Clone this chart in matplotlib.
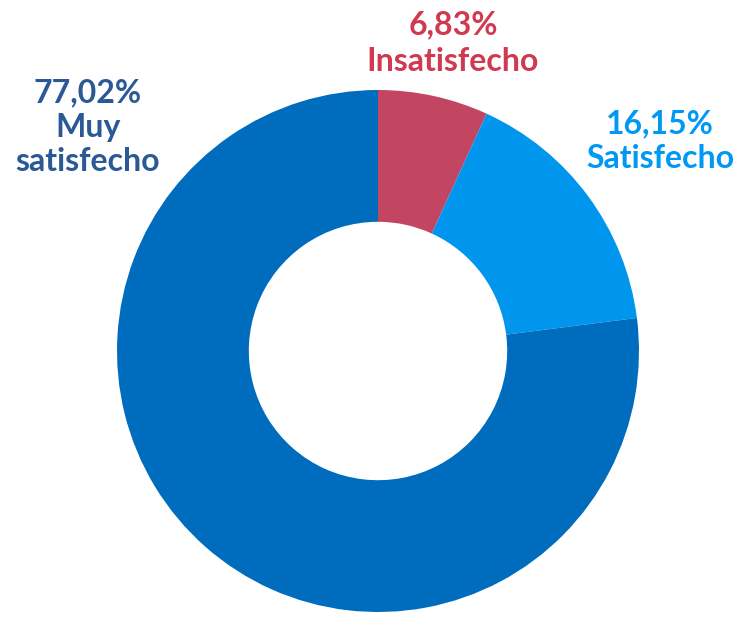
import matplotlib
matplotlib.use("Agg")
import matplotlib.pyplot as plt

categories = ["Insatisfecho", "Satisfecho", "Muy satisfecho"]
values = [6.83, 16.15, 77.02]
pct_labels = ["6,83%", "16,15%", "77,02%"]
label_texts = ["Insatisfecho", "Satisfecho", "Muy\nsatisfecho"]

wedge_colors = ["#C24562", "#0096EE", "#006CBD"]
text_colors = ["#D0394F", "#0098F5", "#2A5996"]

W, H = 737, 617
fig = plt.figure(figsize=(W / 100, H / 100), dpi=100)
cx, cy, r = 378, 351, 261
ax = fig.add_axes([(cx - r) / W, (H - cy - r) / H, 2 * r / W, 2 * r / H])
ax.pie(values, colors=wedge_colors, startangle=90, counterclock=False,
       radius=1.0, wedgeprops=dict(width=0.505, edgecolor="none"))
ax.set_xlim(-1, 1)
ax.set_ylim(-1, 1)
ax.set_aspect("equal")
ax.axis("off")

font = dict(family=["Lato", "DejaVu Sans"], fontweight="bold", fontsize=23,
            ha="center", va="center")
label_pos = [(453, 43), (660, 141), (88, 127)]
spacings = [1.32, 1.22, 1.22]
for i in range(3):
    x, y = label_pos[i]
    fig.text(x / W, 1 - y / H, pct_labels[i] + "\n" + label_texts[i],
             color=text_colors[i], linespacing=spacings[i], **font)

fig.savefig("out.png", dpi=100)
